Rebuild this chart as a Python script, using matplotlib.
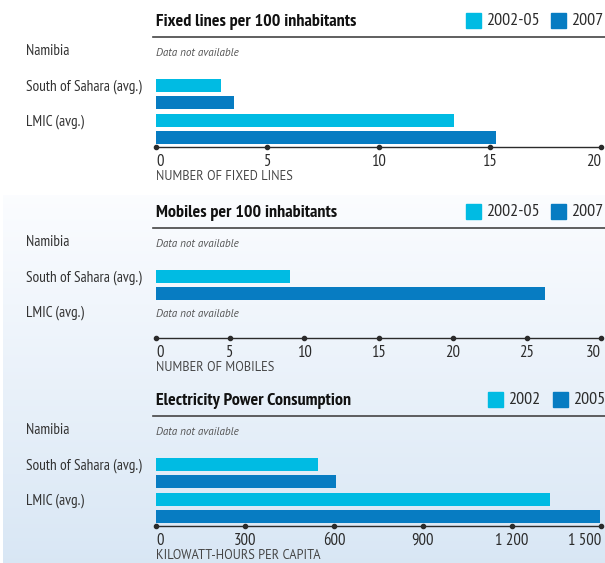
import numpy as np
import matplotlib
matplotlib.use("Agg")
import matplotlib.pyplot as plt
from matplotlib.patches import Rectangle
from matplotlib.lines import Line2D
import matplotlib.transforms as mtransforms

# data
rows = ["Namibia", "South of Sahara (avg.)", "LMIC (avg.)"]

fixed_title = "Fixed lines per 100 inhabitants"
fixed_legend = ["2002-05", "2007"]
fixed_early = [None, 2.9, 13.4]
fixed_late = [None, 3.5, 15.3]
fixed_ticks = [0, 5, 10, 15, 20]
fixed_ticklabels = ["0", "5", "10", "15", "20"]
fixed_xlabel = "NUMBER OF FIXED LINES"

mobile_title = "Mobiles per 100 inhabitants"
mobile_legend = ["2002-05", "2007"]
mobile_early = [None, 9.0, None]
mobile_late = [None, 26.2, None]
mobile_ticks = [0, 5, 10, 15, 20, 25, 30]
mobile_ticklabels = ["0", "5", "10", "15", "20", "25", "30"]
mobile_xlabel = "NUMBER OF MOBILES"

elec_title = "Electricity Power Consumption"
elec_legend = ["2002", "2005"]
elec_early = [None, 546, 1327]
elec_late = [None, 606, 1495]
elec_ticks = [0, 300, 600, 900, 1200, 1500]
elec_ticklabels = ["0", "300", "600", "900", "1 200", "1 500"]
elec_xlabel = "KILOWATT-HOURS PER CAPITA"

CYAN = "#00bbe3"
BLUE = "#077cc2"
DARK = "#2b2b2b"
NARROW = ["PT Sans Narrow", "DejaVu Sans"]

W, H = 605, 563
fig = plt.figure(figsize=(W / 100, H / 100), dpi=100)
fig.patch.set_facecolor("white")

# background gradient for the lower part
bg = fig.add_axes([3 / W, 0, 1 - 3 / W, 1 - 195 / H])
bg.set_axis_off()
c_top = np.array([0.985, 0.99, 1.0])
c_bot = np.array([0.85, 0.905, 0.96])
t = np.linspace(0, 1, 200)[:, None, None]
grad = c_top * (1 - t) + c_bot * t
bg.imshow(grad, aspect="auto", extent=[0, 1, 1, 0])
bg.set_xlim(0, 1)
bg.set_ylim(1, 0)

panels = [
    (fixed_title, fixed_legend, fixed_early, fixed_late, fixed_ticks, fixed_ticklabels, fixed_xlabel, 37, [466, 551]),
    (mobile_title, mobile_legend, mobile_early, mobile_late, mobile_ticks, mobile_ticklabels, mobile_xlabel, 228, [466, 551]),
    (elec_title, elec_legend, elec_early, elec_late, elec_ticks, elec_ticklabels, elec_xlabel, 416, [488, 553]),
]

x0, x1 = 156, 601
for title, leg, early, late, ticks, ticklabels, xlabel, top, lx in panels:
    ax = fig.add_axes([x0 / W, 1 - (top + 110) / H, (x1 - x0) / W, 110 / H])
    ax.patch.set_alpha(0)
    ax.set_xlim(ticks[0], ticks[-1])
    ax.set_ylim(2.71, -0.43)
    for s in ["top", "right", "left"]:
        ax.spines[s].set_visible(False)
    ax.spines["bottom"].set_color(DARK)
    ax.spines["bottom"].set_linewidth(1.0)
    ax.set_yticks([])
    ax.set_xticks(ticks)
    labs = ax.set_xticklabels(ticklabels, family=NARROW, fontsize=12, color=DARK)
    labs[0].set_ha("left")
    labs[-1].set_ha("right")
    labs[-1].set_transform(labs[-1].get_transform() +
                           mtransforms.ScaledTranslation(4 / 100, 0, fig.dpi_scale_trans))
    ax.tick_params(axis="x", length=0, pad=5)
    ax.plot(ticks, [2.71] * len(ticks), "o", ms=3, color=DARK, clip_on=False)
    ax.set_xlabel(xlabel, family="PT Sans", fontsize=9, color="#444444",
                  loc="left", labelpad=0)

    y = np.arange(len(rows))
    lab_tr = mtransforms.blended_transform_factory(fig.transFigure, ax.transData)
    for i, r in enumerate(rows):
        ax.text(26 / W, i - 0.02, r, transform=lab_tr,
                fontsize=11, family=NARROW, color="#333333", va="center", ha="left")
        if early[i] is None and late[i] is None:
            ax.text(0, i + 0.03, "Data not available", fontsize=8, family="PT Sans",
                    style="italic", color="#555555", va="center", ha="left")
    e = [v if v is not None else 0 for v in early]
    l = [v if v is not None else 0 for v in late]
    ax.barh(y - 0.04, e, height=0.37, color=CYAN)
    ax.barh(y + 0.43, l, height=0.37, color=BLUE)

    # title and underline
    fig.text(156 / W, 1 - (top - 15) / H, title, fontsize=13, family=NARROW,
             weight="bold", color="#111111", va="center", ha="left")
    fig.add_artist(Line2D([153 / W, 1], [1 - top / H] * 2, color="#444444", lw=1.2))
    # legend
    for c, lab, xx in zip([CYAN, BLUE], leg, lx):
        fig.add_artist(Rectangle((xx / W, 1 - (top - 9) / H), 15 / W, 15 / H,
                                 color=c, transform=fig.transFigure))
        fig.text((xx + 20) / W, 1 - (top - 16) / H, lab, fontsize=13, family=NARROW,
                 color=DARK, va="center", ha="left")

fig.savefig("out.png", dpi=100)
